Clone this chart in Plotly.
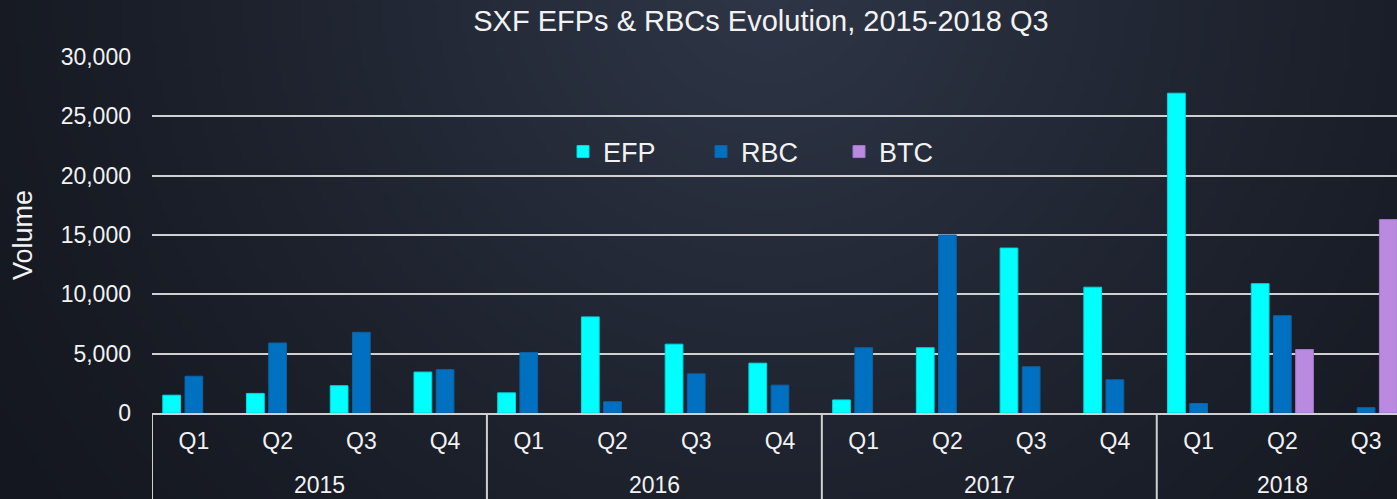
import base64, struct, zlib
import numpy as np
import plotly.graph_objects as go

# ---------------- data ----------------
years = ["2015"] * 4 + ["2016"] * 4 + ["2017"] * 4 + ["2018"] * 3
quarters = ["Q1", "Q2", "Q3", "Q4"] * 3 + ["Q1", "Q2", "Q3"]
efp = [1500, 1650, 2300, 3450, 1700, 8100, 5800, 4200, 1100, 5500, 13900, 10600, 26950, 10900, None]
rbc = [3100, 5900, 6800, 3650, 5100, 950, 3300, 2350, 5500, 15000, 3900, 2800, 800, 8200, 450]
btc = [None] * 13 + [5350, 16300]
y_ticks = [0, 5000, 10000, 15000, 20000, 25000, 30000]

# ---------------- figure geometry ----------------
W, H = 1397, 499
ML, MR, MT, MB = 152, 0, 57, 86
PW, PH = W - ML - MR, H - MT - MB
cat_px = 83.73  # width of one category in the reference
x_hi = -0.5 + PW / cat_px

cats = [f"{y} {q}" for y, q in zip(years, quarters)]

# group spans (computed from the category lists)
groups = []
for i, y in enumerate(years):
    if not groups or groups[-1][0] != y:
        groups.append([y, i, i])
    else:
        groups[-1][2] = i

# background gradient image (PNG built by hand)
def make_png(arr):
    h, w, _ = arr.shape
    raw = b"".join(b"\x00" + arr[i].tobytes() for i in range(h))
    def chunk(t, d):
        c = struct.pack(">I", len(d)) + t + d
        return c + struct.pack(">I", zlib.crc32(t + d) & 0xFFFFFFFF)
    return (b"\x89PNG\r\n\x1a\n" + chunk(b"IHDR", struct.pack(">IIBBBBB", w, h, 8, 2, 0, 0, 0))
            + chunk(b"IDAT", zlib.compress(raw, 9)) + chunk(b"IEND", b""))

gw, gh = 280, 100
xx, yy = np.meshgrid(np.linspace(0, 1, gw), np.linspace(0, 1, gh))
d = np.sqrt(((xx - 0.55) * 2.8) ** 2 + ((yy + 0.05) * 1.0) ** 2)
t = np.clip(1 - d / 1.9, 0, 1) ** 1.3
dark = np.array([20, 23, 31])
light = np.array([47, 55, 72])
img = (dark + (light - dark) * t[..., None]).astype(np.uint8)
bg_uri = "data:image/png;base64," + base64.b64encode(make_png(img)).decode()

font = "Liberation Sans, Arial, sans-serif"
txt = "#f2f2f2"
line_col = "#d0d0d0"

fig = go.Figure()
fig.add_bar(x=cats, y=efp, name="EFP", marker_color="#00FFFF",
            marker_line=dict(color="#00d8e0", width=1))
fig.add_bar(x=cats, y=rbc, name="RBC", marker_color="#0070C0",
            marker_line=dict(color="#1060a0", width=1))
fig.add_bar(x=cats, y=btc, name="BTC", marker_color="#B98ADF",
            marker_line=dict(color="#a078c8", width=1))

shapes = []
annotations = []
for name, i0, i1 in groups:
    shapes.append(dict(type="line", xref="x", yref="paper", x0=i0 - 0.5, x1=i0 - 0.5,
                       y0=0, y1=-MB / PH, line=dict(color=line_col, width=2), layer="above"))
    annotations.append(dict(text=name, xref="x", yref="paper", x=(i0 + i1) / 2,
                            y=-(485 - (H - MB)) / PH, xanchor="center", yanchor="middle",
                            showarrow=False, font=dict(size=23, color=txt, family=font)))

fig.update_layout(
    width=W, height=H,
    margin=dict(l=ML, r=MR, t=MT, b=MB, pad=0),
    paper_bgcolor="#1b1f29",
    plot_bgcolor="rgba(0,0,0,0)",
    barmode="group", bargap=0.205, bargroupgap=0.2,
    font=dict(family=font, color=txt, size=23),
    title=dict(text="SXF EFPs & RBCs Evolution, 2015-2018 Q3", x=761 / W, xanchor="center",
               xref="container", y=1 - 21 / H, yanchor="middle", yref="container",
               font=dict(size=29, color=txt, family=font)),
    legend=dict(orientation="h", x=(770 - ML) / PW, xanchor="center", y=(H - MB - 152) / PH,
                yanchor="middle", font=dict(size=27, color=txt), bgcolor="rgba(0,0,0,0)",
                itemwidth=30, entrywidth=93, traceorder="normal"),
    showlegend=True,
    shapes=shapes,
    annotations=annotations,
    images=[dict(source=bg_uri, xref="paper", yref="paper", x=-ML / PW, y=1 + MT / PH,
                 sizex=W / PW, sizey=H / PH, xanchor="left", yanchor="top",
                 sizing="stretch", layer="below")],
)
fig.update_yaxes(range=[0, 30000], tickvals=y_ticks, tickformat=",", showgrid=True,
                 gridcolor=line_col, gridwidth=2, zeroline=False, showline=False,
                 ticks="", ticklabelstandoff=20, tickfont=dict(size=23, color=txt),
                 title=dict(text="Volume", font=dict(size=27, color=txt), standoff=20))
fig.update_xaxes(type="category", range=[-0.5, x_hi], tickvals=cats, ticktext=quarters,
                 showline=True, linecolor=line_col, linewidth=2, showgrid=False, ticks="",
                 ticklabelstandoff=6, tickfont=dict(size=23, color=txt))

fig.write_html("out.html", config={"displayModeBar": False},
               post_script="document.body.style.margin='0';")
